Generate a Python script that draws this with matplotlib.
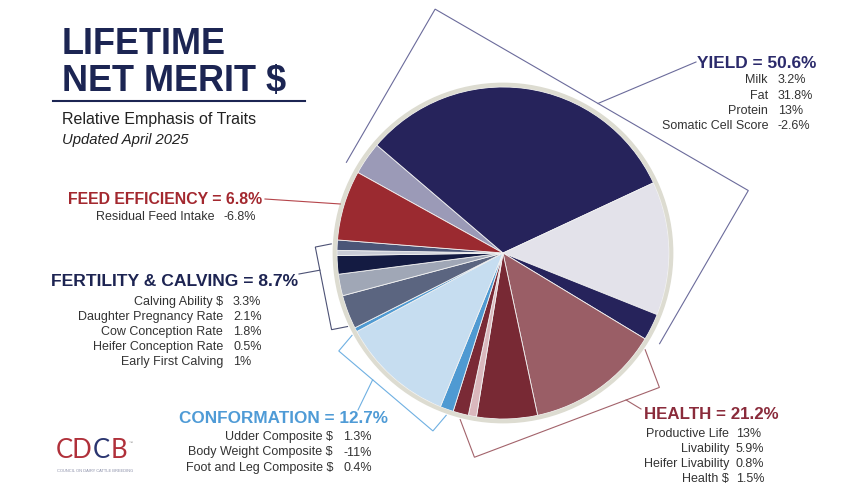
import numpy as np
import matplotlib
matplotlib.use("Agg")
import matplotlib.pyplot as plt

plt.rcParams['font.family'] = ['Liberation Sans', 'DejaVu Sans']

# traits in pie order (clockwise), values as published (signed)
trait_names = ["Milk", "Fat", "Protein", "Somatic Cell Score",
               "Productive Life", "Livability", "Heifer Livability", "Health $",
               "Udder Composite $", "Body Weight Composite $", "Foot and Leg Composite $",
               "Calving Ability $", "Daughter Pregnancy Rate", "Cow Conception Rate",
               "Heifer Conception Rate", "Early First Calving",
               "Residual Feed Intake"]
trait_values = [3.2, 31.8, 13, -2.6,
                13, 5.9, 0.8, 1.5,
                1.3, -11, 0.4,
                3.3, 2.1, 1.8, 0.5, 1,
                -6.8]
trait_group = [0, 0, 0, 0,
               1, 1, 1, 1,
               2, 2, 2,
               3, 3, 3, 3, 3,
               4]
group_names = ["YIELD", "HEALTH", "CONFORMATION", "FERTILITY & CALVING", "FEED EFFICIENCY"]

slice_colors = ["#9b9ab7", "#26235b", "#e3e2ea", "#26235b",
                "#9a5e66", "#782934", "#dab8bd", "#7a2a36",
                "#4f9ad2", "#c6ddf0", "#4f9ad2",
                "#5b6580", "#a0a7b6", "#141b42", "#c9ccd6", "#4b5577",
                "#9b2a30"]

head_colors = ["#2b2a6b", "#8a2b3b", "#4f9bd6", "#1d2452", "#a3282f"]
line_colors = ["#6b6b9b", "#a3636b", "#6fb0e2", "#4d5275", "#b5454b"]

fig = plt.figure(figsize=(8.64, 5.04), dpi=100)
ax = fig.add_axes([0, 0, 1, 1])

cx, cy, R = 503, 253, 166
start = 151
sizes = np.abs(trait_values)

# y axis is flipped below, so counterclock in data = clockwise on screen
ax.pie(sizes, colors=slice_colors, startangle=-start, counterclock=True,
       center=(cx, cy), radius=R,
       wedgeprops=dict(edgecolor="#f2f2f2", linewidth=0.6))
ax.add_patch(plt.Circle((cx, cy), R + 2.3, fill=False, edgecolor="#dddcd1", linewidth=3.0))

ax.set_xlim(0, 864)
ax.set_ylim(504, 0)
ax.set_aspect("equal")
ax.axis("off")

def to_px(a, r):
    t = np.radians(a)
    return cx + r * np.cos(t), cy - r * np.sin(t)

# group angle ranges
frac = sizes / sizes.sum() * 360
cum = np.concatenate([[0], np.cumsum(frac)])
trait_group = np.array(trait_group)
g_start, g_end, g_total = [], [], []
for g in range(len(group_names)):
    idx = np.where(trait_group == g)[0]
    g_start.append(start - cum[idx[0]])
    g_end.append(start - cum[idx[-1] + 1])
    g_total.append(sizes[idx].sum())

# bracket: half width radius, far side radius, connector pos, label attach
bracket = {
    0: (181, 177, 0.52, (696, 62)),
    1: (160, 181, 0.18, (641, 409)),
    2: (159, 181, 0.64, (358, 410)),
    3: (156, 183, 0.72, (299, 274)),
}
Rr = 172
for g, (rb, rf, cf, lab) in bracket.items():
    m = (g_start[g] + g_end[g]) / 2
    h = (g_start[g] - g_end[g]) / 2
    w = rb * np.sin(np.radians(h))
    t0 = np.sqrt(max(Rr ** 2 - w ** 2, 0))
    mr = np.radians(m)
    u = np.array([np.cos(mr), np.sin(mr)])
    v = np.array([-np.sin(mr), np.cos(mr)])
    pts = [t0 * u + w * v, rf * u + w * v, rf * u - w * v, t0 * u - w * v]
    xs = [cx + p[0] for p in pts]
    ys = [cy - p[1] for p in pts]
    ax.plot(xs, ys, color=line_colors[g], lw=0.8, solid_joinstyle="miter")
    qx = xs[1] + cf * (xs[2] - xs[1])
    qy = ys[1] + cf * (ys[2] - ys[1])
    ax.plot([qx, lab[0]], [qy, lab[1]], color=line_colors[g], lw=0.8)

# feed efficiency: plain leader to the pie
fm = (g_start[4] + g_end[4]) / 2
ex, ey = to_px(fm, R + 4)
ax.plot([265, ex], [199, ey], color=line_colors[4], lw=0.8)

# headings and trait lists
# (head x, head y, ha, size, name right x, value x, first row y, row step)
layout = [
    (697, 68.3, "left", 12.4, 768, 778, 83.3, 15.3),
    (644, 419, "left", 12.2, 729, 736, 436.7, 15.0),
    (388, 422.7, "right", 12.3, 333, 343, 440, 15.5),
    (298, 286, "right", 12.6, 223, 233, 305, 15.1),
    (262, 204, "right", 11.4, 214, 223, 220, 15.0),
]
for g, (hx, hy, ha, fs, nx, vx, y0, dy) in enumerate(layout):
    ax.text(hx, hy, f"{group_names[g]} = {g_total[g]:.1f}%", ha=ha, va="baseline",
            fontsize=fs, fontweight="bold", color=head_colors[g])
    idx = np.where(trait_group == g)[0]
    for k, i in enumerate(idx):
        y = y0 + k * dy
        ax.text(nx, y, trait_names[i], ha="right", va="baseline", fontsize=9, color="#333333")
        ax.text(vx, y, f"{trait_values[i]:g}%", ha="left", va="baseline", fontsize=9, color="#333333")

# title block
navy = "#1c2553"
ax.text(62, 54.5, "LIFETIME", fontsize=26, fontweight="bold", color=navy, va="baseline")
ax.text(62, 90.5, "NET MERIT $", fontsize=26, fontweight="bold", color=navy, va="baseline")
ax.plot([53, 305], [101, 101], color=navy, lw=1.5)
ax.text(62, 124, "Relative Emphasis of Traits", fontsize=11.5, color="#222222", va="baseline")
ax.text(62, 144, "Updated April 2025", fontsize=10.7, style="italic", color="#222222", va="baseline")

# logo, letters laid out one after another
logo_red, logo_navy = "#b0303a", "#2a3570"
renderer = fig.canvas.get_renderer()
lx = 56
for ch, c in [("CD", logo_red), ("C", logo_navy), ("B", logo_red)]:
    t = ax.text(lx, 458, ch, fontsize=18.5, family=["Lato", "DejaVu Sans"],
                color=c, va="baseline")
    bb = t.get_window_extent(renderer)
    lx += bb.width + 0.5
ax.text(lx + 0.5, 444, "\u2122", fontsize=3, color="#888888", va="baseline")
ax.text(57, 472, "COUNCIL ON DAIRY CATTLE BREEDING", fontsize=2.9, color="#8a8fa8", va="baseline")

fig.savefig("out.png", dpi=100, facecolor="white")
